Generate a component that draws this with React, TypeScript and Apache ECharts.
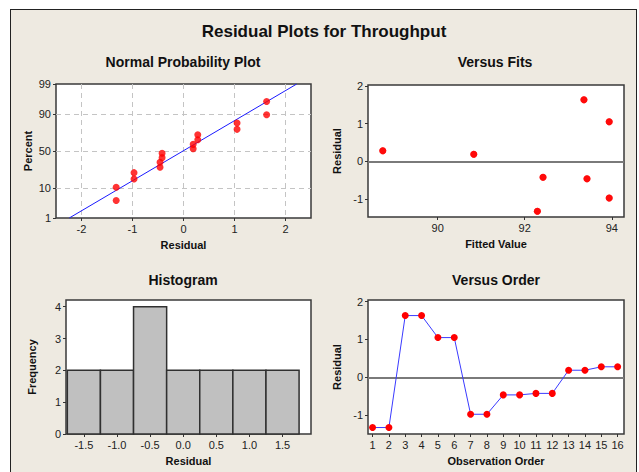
import React, { useEffect, useRef } from "react";
import * as echarts from "echarts";

// ---------- data ----------
const observationOrder = [1, 2, 3, 4, 5, 6, 7, 8, 9, 10, 11, 12, 13, 14, 15, 16];
const residuals = [-1.32, -1.32, 1.63, 1.63, 1.05, 1.05, -0.97, -0.97, -0.46, -0.46, -0.42, -0.42, 0.19, 0.19, 0.28, 0.28];
const fittedValues = [92.29, 92.29, 93.36, 93.36, 93.94, 93.94, 93.94, 93.94, 93.43, 93.43, 92.42, 92.42, 90.83, 90.83, 88.74, 88.74];

const nppResidual = [-1.32, -1.32, -0.97, -0.97, -0.46, -0.46, -0.42, -0.42, 0.19, 0.19, 0.28, 0.28, 1.05, 1.05, 1.63, 1.63];
const nppPercent = [4.3, 10.4, 16.5, 22.6, 28.7, 34.8, 40.9, 47.0, 53.0, 59.1, 65.2, 71.3, 77.4, 83.5, 89.6, 95.7];
const fitLineResidual = [-2.24, 2.22];
const fitLinePercent = [1, 99];
const percentTicks = [1, 10, 50, 90, 99];
const percentGrid = [10, 50, 90];

const binCenters = [-1.5, -1.0, -0.5, 0.0, 0.5, 1.0, 1.5];
const binCounts = [2, 2, 4, 2, 2, 2, 2];
const binWidth = 0.5;

const nppXTicks = [-2, -1, 0, 1, 2];
const fitsXTicks = [90, 92, 94];
const residualTicks = [-1, 0, 1, 2];
const histXTicks = [-1.5, -1.0, -0.5, 0.0, 0.5, 1.0, 1.5];
const freqTicks = [0, 1, 2, 3, 4];

// inverse normal CDF (Acklam)
function invNorm(p: number): number {
  const a = [-3.969683028665376e1, 2.209460984245205e2, -2.759285104469687e2, 1.38357751867269e2, -3.066479806614716e1, 2.506628277459239];
  const b = [-5.447609879822406e1, 1.615858368580409e2, -1.556989798598866e2, 6.680131188771972e1, -1.328068155288572e1];
  const c = [-7.784894002430293e-3, -3.223964580411365e-1, -2.400758277161838, -2.549732539343734, 4.374664141464968, 2.938163982698783];
  const d = [7.784695709041462e-3, 3.224671290700398e-1, 2.445134137142996, 3.754408661907416];
  const plow = 0.02425;
  const phigh = 1 - plow;
  let q: number, r: number;
  if (p < plow) {
    q = Math.sqrt(-2 * Math.log(p));
    return (((((c[0] * q + c[1]) * q + c[2]) * q + c[3]) * q + c[4]) * q + c[5]) / ((((d[0] * q + d[1]) * q + d[2]) * q + d[3]) * q + 1);
  }
  if (p <= phigh) {
    q = p - 0.5;
    r = q * q;
    return ((((((a[0] * r + a[1]) * r + a[2]) * r + a[3]) * r + a[4]) * r + a[5]) * q) / (((((b[0] * r + b[1]) * r + b[2]) * r + b[3]) * r + b[4]) * r + 1);
  }
  q = Math.sqrt(-2 * Math.log(1 - p));
  return -(((((c[0] * q + c[1]) * q + c[2]) * q + c[3]) * q + c[4]) * q + c[5]) / ((((d[0] * q + d[1]) * q + d[2]) * q + d[3]) * q + 1);
}
const pz = (pct: number) => invNorm(pct / 100);

export default function App() {
  const ref = useRef<HTMLDivElement>(null);
  useEffect(() => {
    const chart = echarts.init(ref.current!, null, { renderer: "svg" });
    const font = "Liberation Sans";
    const tickLabel = { color: "#222", fontSize: 11, fontFamily: font, margin: 5 };
    const nameStyle = { color: "#111", fontSize: 11, fontWeight: "bold" as const, fontFamily: font };
    const tick = (vals: number[]) => ({ show: true, length: 3, customValues: vals, lineStyle: { color: "#333" } });
    const noLine = { show: false, onZero: false };
    const gridCommon = { show: true, backgroundColor: "#ffffff", borderColor: "#3a3a3a", borderWidth: 1.5, containLabel: false };
    const zMin = pz(1);
    const zMax = pz(99);
    const red = "#ff0000";

    const titleText = (text: string, x: number, y: number, size: number) => ({
      type: "text",
      x,
      y,
      style: { text, fill: "#111", font: `bold ${size}px "${font}"`, textAlign: "center", textVerticalAlign: "middle" },
    });

    const option: any = {
      animation: false,
      backgroundColor: "transparent",
      graphic: {
        elements: [
          titleText("Residual Plots for Throughput", 324, 31, 17),
          titleText("Normal Probability Plot", 183, 62, 14),
          titleText("Versus Fits", 495, 62, 14),
          titleText("Histogram", 183, 280, 14),
          titleText("Versus Order", 496, 280, 14),
        ],
      },
      grid: [
        { ...gridCommon, left: 56, top: 84, width: 255, height: 134 },
        { ...gridCommon, left: 368, top: 85, width: 256, height: 132 },
        { ...gridCommon, left: 66, top: 300, width: 245, height: 134 },
        { ...gridCommon, left: 368, top: 300, width: 256, height: 134 },
      ],
      xAxis: [
        {
          gridIndex: 0, type: "value", min: -2.5, max: 2.5, interval: 0.5,
          name: "Residual", nameLocation: "middle", nameGap: 21, nameTextStyle: nameStyle,
          axisLine: noLine, axisTick: tick(nppXTicks),
          axisLabel: { ...tickLabel, customValues: nppXTicks, formatter: (v: number) => String(v) },
          splitLine: { show: true, lineStyle: { color: "#c4c4c4", type: [5, 4], width: 1 } },
        },
        {
          gridIndex: 1, type: "value", min: 88.4, max: 94.28,
          name: "Fitted Value", nameLocation: "middle", nameGap: 21, nameTextStyle: nameStyle,
          axisLine: noLine, axisTick: tick(fitsXTicks),
          axisLabel: { ...tickLabel, customValues: fitsXTicks, formatter: (v: number) => String(v) },
          splitLine: { show: false },
        },
        {
          gridIndex: 2, type: "value", min: -1.77, max: 1.93,
          name: "Residual", nameLocation: "middle", nameGap: 21, nameTextStyle: nameStyle,
          axisLine: noLine, axisTick: tick(histXTicks),
          axisLabel: { ...tickLabel, customValues: histXTicks, formatter: (v: number) => v.toFixed(1) },
          splitLine: { show: false },
        },
        {
          gridIndex: 3, type: "value", min: 0.72, max: 16.39,
          name: "Observation Order", nameLocation: "middle", nameGap: 21, nameTextStyle: nameStyle,
          axisLine: noLine, axisTick: tick(observationOrder),
          axisLabel: { ...tickLabel, customValues: observationOrder, formatter: (v: number) => String(v) },
          splitLine: { show: false },
        },
      ],
      yAxis: [
        {
          gridIndex: 0, type: "value", min: zMin, max: zMax,
          name: "Percent", nameLocation: "middle", nameGap: 23, nameTextStyle: nameStyle,
          axisLine: noLine, axisTick: tick(percentTicks.map(pz)),
          axisLabel: {
            ...tickLabel, showMinLabel: true, showMaxLabel: true,
            customValues: percentTicks.map(pz),
            formatter: (v: number) => {
              let best = percentTicks[0];
              percentTicks.forEach((p) => { if (Math.abs(pz(p) - v) < Math.abs(pz(best) - v)) best = p; });
              return String(best);
            },
          },
          splitLine: { show: false },
        },
        {
          gridIndex: 1, type: "value", min: -1.47, max: 2.02,
          name: "Residual", nameLocation: "middle", nameGap: 26, nameTextStyle: nameStyle,
          axisLine: noLine, axisTick: tick(residualTicks),
          axisLabel: { ...tickLabel, customValues: residualTicks, showMaxLabel: true, formatter: (v: number) => String(v) },
          splitLine: { show: false },
        },
        {
          gridIndex: 2, type: "value", min: 0, max: 4.21,
          name: "Frequency", nameLocation: "middle", nameGap: 29, nameTextStyle: nameStyle,
          axisLine: noLine, axisTick: tick(freqTicks),
          axisLabel: { ...tickLabel, customValues: freqTicks, showMinLabel: true, formatter: (v: number) => String(v) },
          splitLine: { show: false },
        },
        {
          gridIndex: 3, type: "value", min: -1.49, max: 2.04,
          name: "Residual", nameLocation: "middle", nameGap: 26, nameTextStyle: nameStyle,
          axisLine: noLine, axisTick: tick(residualTicks),
          axisLabel: { ...tickLabel, customValues: residualTicks, showMaxLabel: true, formatter: (v: number) => String(v) },
          splitLine: { show: false },
        },
      ],
      series: [
        // NPP horizontal dashed grid lines
        {
          type: "line", xAxisIndex: 0, yAxisIndex: 0, data: [], z: 1, silent: true,
          markLine: {
            z: 1, silent: true, symbol: ["none", "none"], label: { show: false },
            lineStyle: { color: "#c4c4c4", type: [5, 4], width: 1 },
            data: percentGrid.map((p) => ({ yAxis: pz(p) })),
          },
        },
        {
          type: "line", xAxisIndex: 0, yAxisIndex: 0, z: 9, symbol: "none", silent: true,
          lineStyle: { color: "#1a1aff", width: 1 },
          data: fitLineResidual.map((x, i) => [x, pz(fitLinePercent[i])]),
        },
        {
          type: "scatter", xAxisIndex: 0, yAxisIndex: 0, z: 10, symbolSize: 7,
          itemStyle: { color: red },
          data: nppResidual.map((x, i) => [x, pz(nppPercent[i])]),
        },
        // Versus fits
        {
          type: "scatter", xAxisIndex: 1, yAxisIndex: 1, z: 10, symbolSize: 7,
          itemStyle: { color: red },
          data: fittedValues.map((f, i) => [f, residuals[i]]),
          markLine: {
            z: 1, silent: true, symbol: ["none", "none"], label: { show: false },
            lineStyle: { color: "#7a7a7a", type: "solid", width: 2 },
            data: [{ yAxis: 0 }],
          },
        },
        // Histogram
        {
          type: "custom", xAxisIndex: 2, yAxisIndex: 2, z: 2,
          data: binCenters.map((c, i) => [c, binCounts[i]]),
          renderItem: (params: any, api: any) => {
            const c = api.value(0);
            const n = api.value(1);
            const p0 = api.coord([c - binWidth / 2, n]);
            const p1 = api.coord([c + binWidth / 2, 0]);
            return {
              type: "rect",
              shape: { x: p0[0], y: p0[1], width: p1[0] - p0[0], height: p1[1] - p0[1] },
              style: { fill: "#c0c0c0", stroke: "#303030", lineWidth: 1.5 },
            };
          },
        },
        // Versus order
        {
          type: "line", xAxisIndex: 3, yAxisIndex: 3, z: 10, symbol: "circle", symbolSize: 7,
          lineStyle: { color: "#3a3aff", width: 1 },
          itemStyle: { color: red },
          data: observationOrder.map((o, i) => [o, residuals[i]]),
          markLine: {
            z: 1, silent: true, symbol: ["none", "none"], label: { show: false },
            lineStyle: { color: "#7a7a7a", type: "solid", width: 2 },
            data: [{ yAxis: 0 }],
          },
        },
      ],
    };
    chart.setOption(option);
    return () => chart.dispose();
  }, []);

  return (
    <div style={{ position: "fixed", left: 0, top: 0, width: 639, height: 472, background: "#ffffff", overflow: "hidden" }}>
      <div
        style={{
          position: "absolute", left: 10, top: 9, width: 625, height: 480,
          background: "#eeeae1", border: "1.5px solid #222",
        }}
      />
      <div ref={ref} style={{ position: "absolute", left: 0, top: 0, width: 639, height: 472 }} />
    </div>
  );
}
